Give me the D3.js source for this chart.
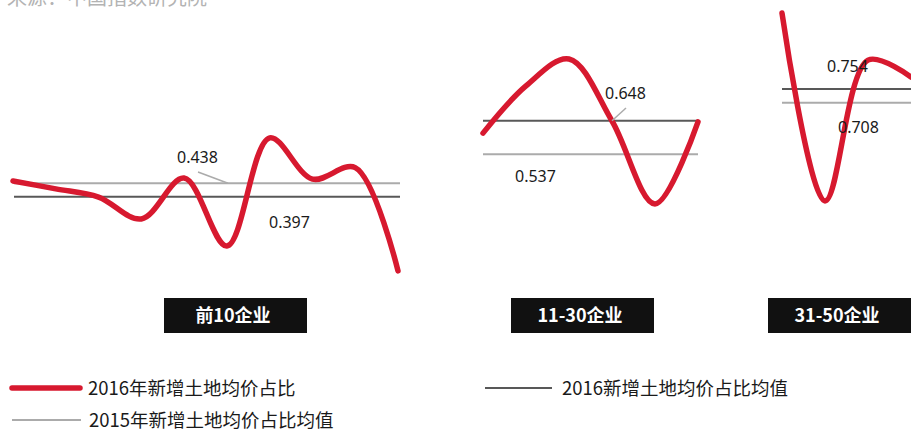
<!DOCTYPE html>
<html>
<head>
<meta charset="utf-8">
<script src="https://cdn.jsdelivr.net/npm/d3@7"></script>
<style>
  html, body { margin: 0; padding: 0; background: #fff; }
  svg { display: block; }
</style>
</head>
<body>
<svg id="chart" width="911" height="430"></svg>
<script>
// Group labels
const groups = ["前10企业", "11-30企业", "31-50企业"];

// 2016 land price share per company, one list per group
const share2016Top10 = [0.445, 0.421, 0.396, 0.329, 0.454, 0.246, 0.577, 0.451, 0.486, 0.170];
const share2016Top11to30 = [0.607, 0.763, 0.852, 0.647, 0.373, 0.644];
const share2016Top31to50 = [1.009, 0.378, 0.851, 0.794];

// Group averages
const avg2016 = [0.397, 0.648, 0.754];
const avg2015 = [0.438, 0.537, 0.708];

// Legend texts
const legendLabels = ["2016年新增土地均价占比", "2016新增土地均价占比均值", "2015年新增土地均价占比均值"];
const sourceText = "来源：中国指数研究院";

const RED = "#d7192f", DARK = "#585858", LIGHT = "#ababab";
const CJK = "'Noto Sans CJK SC', 'Noto Sans', sans-serif";

const svg = d3.select("#chart");

// Panel layout: x extent of the wave, y positions of the two average lines
const panels = [
  { values: share2016Top10,     x0: 13,  x1: 398, lx0: 14,  lx1: 400, y16: 196.7, y15: 183.3, box: 164,
    labels: [{ v: "2015", x: 177, y: 163, leader: [198, 172, 228, 183.3] }, { v: "2016", x: 269, y: 228 }] },
  { values: share2016Top11to30, x0: 483, x1: 698, lx0: 483, lx1: 698, y16: 120.7, y15: 154.3, box: 511,
    labels: [{ v: "2016", x: 605, y: 99, leader: [626, 108, 612, 120.7] }, { v: "2015", x: 515, y: 182 }] },
  { values: share2016Top31to50, x0: 782, x1: 911, lx0: 782, lx1: 911, y16: 89,    y15: 102.7, box: 768,
    labels: [{ v: "2016", x: 827, y: 72 }, { v: "2015", x: 838, y: 133 }] }
];

// Source line at the very top
svg.append("text")
  .attr("x", 7).attr("y", 5)
  .attr("font-family", CJK).attr("font-size", 20)
  .attr("fill", "#b3b3b3")
  .text(sourceText);

panels.forEach((p, i) => {
  const x = d3.scalePoint().domain(d3.range(p.values.length)).range([p.x0, p.x1]);
  const y = d3.scaleLinear().domain([avg2016[i], avg2015[i]]).range([p.y16, p.y15]);
  const g = svg.append("g");

  // average lines
  g.append("line")
    .attr("x1", p.lx0).attr("x2", p.lx1)
    .attr("y1", y(avg2015[i])).attr("y2", y(avg2015[i]))
    .attr("stroke", LIGHT).attr("stroke-width", 2);
  g.append("line")
    .attr("x1", p.lx0).attr("x2", p.lx1)
    .attr("y1", y(avg2016[i])).attr("y2", y(avg2016[i]))
    .attr("stroke", DARK).attr("stroke-width", 2);

  // smoothed share curve
  const line = d3.line()
    .x((d, j) => x(j))
    .y(d => y(d))
    .curve(d3.curveCatmullRom.alpha(0.5));
  g.append("path")
    .datum(p.values)
    .attr("d", line)
    .attr("fill", "none")
    .attr("stroke", RED)
    .attr("stroke-width", 5.5)
    .attr("stroke-linecap", "round")
    .attr("stroke-linejoin", "round");

  // average value labels
  p.labels.forEach(l => {
    const val = l.v === "2016" ? avg2016[i] : avg2015[i];
    if (l.leader) {
      g.append("line")
        .attr("x1", l.leader[0]).attr("y1", l.leader[1])
        .attr("x2", l.leader[2]).attr("y2", l.leader[3])
        .attr("stroke", LIGHT).attr("stroke-width", 1.5);
    }
    g.append("text")
      .attr("x", l.x).attr("y", l.y)
      .attr("font-family", "'Noto Sans', sans-serif")
      .attr("font-size", 16)
      .attr("fill", "#1a1a1a")
      .text(d3.format(".3f")(val));
  });

  // group label box
  g.append("rect")
    .attr("x", p.box).attr("y", 298)
    .attr("width", 143).attr("height", 35)
    .attr("fill", "#111");
  g.append("text")
    .attr("x", p.box + 69).attr("y", 322)
    .attr("text-anchor", "middle")
    .attr("font-family", CJK).attr("font-size", 18).attr("font-weight", "bold")
    .attr("fill", "#fff")
    .text(groups[i]);
});

// Legend
const legend = [
  { x: 12, y: 388, color: RED, w: 5.5, cap: "round", len: 68, label: legendLabels[0] },
  { x: 485, y: 388, color: DARK, w: 2, cap: "butt", len: 67, label: legendLabels[1] },
  { x: 12, y: 420, color: LIGHT, w: 2, cap: "butt", len: 69, label: legendLabels[2] }
];
legend.forEach(d => {
  svg.append("line")
    .attr("x1", d.x).attr("x2", d.x + d.len)
    .attr("y1", d.y).attr("y2", d.y)
    .attr("stroke", d.color).attr("stroke-width", d.w)
    .attr("stroke-linecap", d.cap);
  svg.append("text")
    .attr("x", d.x + (d.cap === "round" ? 76 : 77)).attr("y", d.y + 7)
    .attr("font-family", CJK).attr("font-size", 18.5)
    .attr("fill", "#1a1a1a")
    .text(d.label);
});
</script>
</body>
</html>
